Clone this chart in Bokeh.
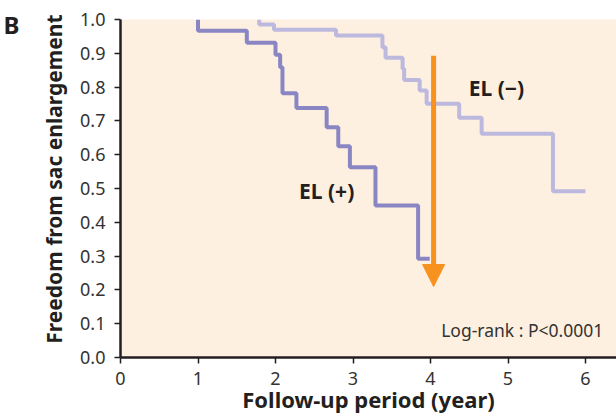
from bokeh.plotting import figure
from bokeh.models import (FixedTicker, NumeralTickFormatter, Arrow, NormalHead, Title, Range1d,
                          LinearAxis)
from bokeh.embed import file_html
from bokeh.resources import INLINE
from bokeh.core.properties import value

# EL(+) curve: event times (years) and survival after each event
elp_t = [1.0, 1.0, 1.63, 2.0, 2.06, 2.09, 2.27, 2.66, 2.81, 2.96, 3.29, 3.84, 3.99]
elp_s = [1.0, 0.967, 0.931, 0.896, 0.859, 0.782, 0.738, 0.681, 0.625, 0.563, 0.450, 0.292, 0.292]

# EL(-) curve
elm_t = [1.79, 1.79, 1.98, 2.78, 3.38, 3.42, 3.64, 3.66, 3.86, 3.95, 4.37, 4.66, 5.58, 6.0]
elm_s = [1.0, 0.985, 0.970, 0.953, 0.918, 0.887, 0.854, 0.821, 0.790, 0.751, 0.709, 0.662, 0.492, 0.492]

arrow_x = 4.04
arrow_from = 0.893
arrow_to = 0.21

x_ticks = [0, 1, 2, 3, 4, 5, 6]
y_ticks = [0.0, 0.1, 0.2, 0.3, 0.4, 0.5, 0.6, 0.7, 0.8, 0.9, 1.0]

FONT = "Noto Sans"
DARK = "#8a86c4"
LIGHT = "#bcb8de"
ORANGE = "#f7921e"
INK = "#231f20"

p = figure(width=616, height=416, output_backend="svg", toolbar_location=None,
           x_range=Range1d(0, 6.4), y_range=Range1d(0, 1.0),
           min_border_left=119, min_border_right=0, min_border_top=19, min_border_bottom=59)
p.background_fill_color = "#fdf0e1"
p.border_fill_color = "white"
p.outline_line_color = None
p.grid.visible = False

p.step(elm_t, elm_s, mode="after", line_color=LIGHT, line_width=4)
p.step(elp_t, elp_s, mode="after", line_color=DARK, line_width=4)

p.add_layout(Arrow(x_start=arrow_x, y_start=arrow_from, x_end=arrow_x, y_end=arrow_to,
                   line_color=ORANGE, line_width=5,
                   end=NormalHead(size=22, fill_color=ORANGE, line_color=ORANGE, line_width=1)))

p.text(x=[2.66], y=[0.494], text=["EL (+)"], text_font=value(FONT), text_font_style="bold",
       text_font_size="21px", text_align="center", text_baseline="middle", text_color=INK)
p.text(x=[4.85], y=[0.796], text=["EL (−)"], text_font=value(FONT), text_font_style="bold",
       text_font_size="21px", text_align="center", text_baseline="middle", text_color=INK)
p.text(x=[6.23], y=[0.08], text=["Log-rank : P<0.0001"], text_font=value(FONT),
       text_font_size="17.5px", text_align="right", text_baseline="middle", text_color="#333333")

for ax in (p.xaxis[0], p.yaxis[0]):
    ax.axis_line_color = INK
    ax.axis_line_width = 2.5
    ax.major_tick_line_color = INK
    ax.major_tick_line_width = 1.5
    ax.major_tick_out = 6
    ax.major_tick_in = 0
    ax.minor_tick_line_color = None
    ax.major_label_text_font = FONT
    ax.major_label_text_font_size = "18px"
    ax.major_label_text_color = "#333333"
    ax.axis_label_text_font = FONT
    ax.axis_label_text_font_style = "bold"
    ax.axis_label_text_font_size = "22px"
    ax.axis_label_text_color = INK

p.xaxis.ticker = FixedTicker(ticks=x_ticks)
p.yaxis.ticker = FixedTicker(ticks=y_ticks)
p.yaxis.formatter = NumeralTickFormatter(format="0.0")
p.xaxis.axis_label = "Follow-up period (year)"
p.xaxis.major_label_standoff = 8
p.yaxis.major_label_standoff = 9
p.xaxis.axis_label_standoff = -4

# y-axis title, set outside the tick labels and aligned to the top of the frame
p.add_layout(Title(text="Freedom from sac enlargement", align="right", offset=-5, standoff=20,
                   text_font=FONT, text_font_style="bold", text_font_size="21px",
                   text_color=INK), "left")

# panel letter "B": an unlined outer axis whose single label sits at the top-left corner
letter_axis = LinearAxis(ticker=FixedTicker(ticks=[0.985]),
                         major_label_overrides={0.985: "B"},
                         axis_line_color=None, major_tick_line_color=None,
                         minor_tick_line_color=None, major_tick_out=0, major_tick_in=0,
                         major_label_standoff=8,
                         major_label_text_font=FONT, major_label_text_font_style="bold",
                         major_label_text_font_size="24px", major_label_text_color=INK)
p.add_layout(letter_axis, "left")

open("out.html", "w").write(file_html(p, INLINE))
